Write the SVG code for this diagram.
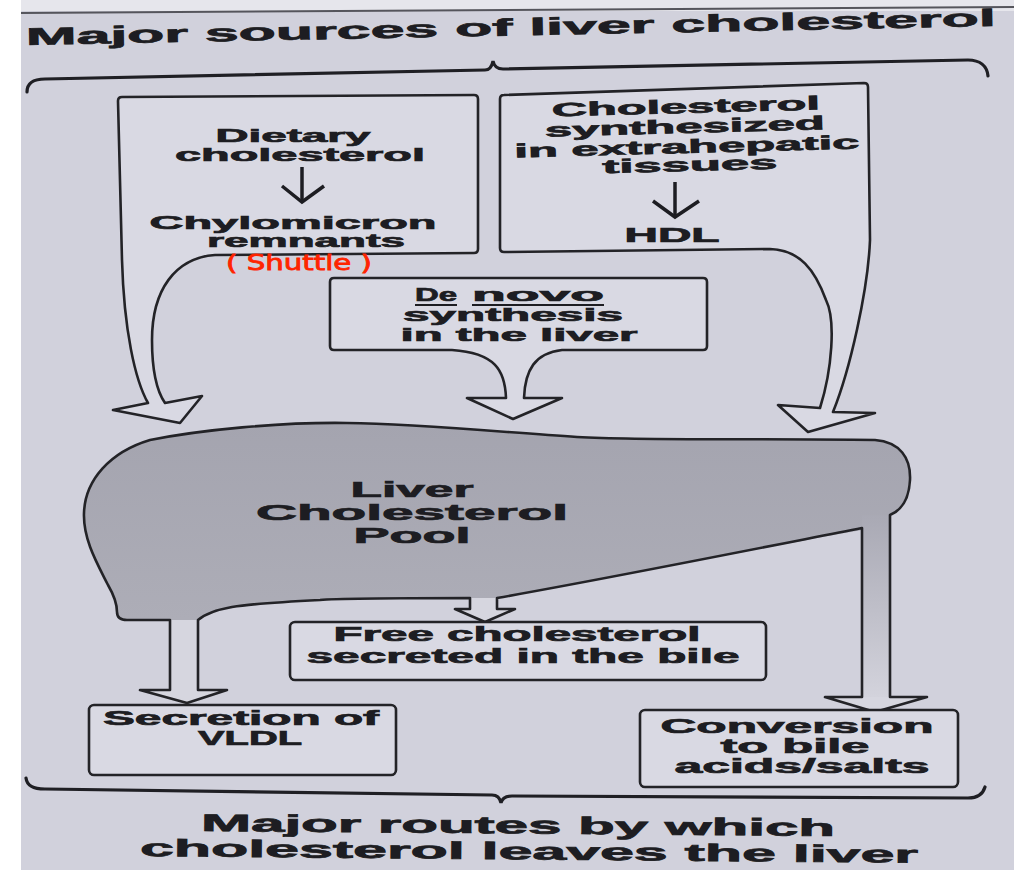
<svg xmlns="http://www.w3.org/2000/svg" width="1014" height="870" viewBox="0 0 1014 870">
  <defs>
    <linearGradient id="shaftGrad" x1="0" y1="515" x2="0" y2="697" gradientUnits="userSpaceOnUse">
      <stop offset="0" stop-color="#a9a9b4"/>
      <stop offset="1" stop-color="#d3d3dc"/>
    </linearGradient>
    <linearGradient id="liverGrad" x1="0" y1="420" x2="0" y2="620" gradientUnits="userSpaceOnUse">
      <stop offset="0" stop-color="#a4a4af"/>
      <stop offset="1" stop-color="#adadb7"/>
    </linearGradient>
  </defs>
  <style>
    .t { font-family: "Liberation Sans", Arial, sans-serif; font-weight: bold; fill: #1d1d22; stroke: #1d1d22; stroke-width: 0.7; }
    .ol { fill: none; stroke: #232327; stroke-width: 2.6; stroke-linejoin: round; stroke-linecap: round; }
    .bx { fill: #d9d9e3; stroke: #232327; stroke-width: 2.6; stroke-linejoin: round; }
    .ar { fill: none; stroke: #1d1d22; stroke-width: 3.5; stroke-linecap: butt; stroke-linejoin: miter; }
    .br { fill: none; stroke: #1f1f24; stroke-width: 3.2; stroke-linecap: round; }
    .ul { stroke: #1d1d22; stroke-width: 2; }
  </style>

  <!-- page -->
  <rect x="0" y="0" width="1014" height="870" fill="#d1d1dc"/>
  <rect x="0" y="0" width="1014" height="11" fill="#e6e6ec"/>
  <rect x="0" y="0" width="21" height="870" fill="#ffffff"/>
  <line x1="21" y1="13" x2="1014" y2="7" stroke="#55555c" stroke-width="2"/>

  <g id="title">
    <text class="t" x="26" y="45" font-size="24" textLength="970" lengthAdjust="spacingAndGlyphs" transform="rotate(-1.12 26 45)">Major sources of liver cholesterol</text>
  </g>

  <g id="brace-top">
    <path class="br" d="M 27,92 C 27,83 33,79 45,79 L 485,70 C 490,70 492,66 493,61 C 494,66 497,69 503,69 L 968,60 C 980,60 987,66 988,76"/>
  </g>

  <g id="box-dietary">
    <path class="bx" d="M 113,410 L 148,403 C 135,380 124,330 122,260 L 118,101 Q 118,97 122,97 L 474,95 Q 478,95 478,99 L 478,249 Q 478,253 474,253 L 215,255 C 175,258 152,290 152,340 C 152,370 156,390 165,403 L 202,396 L 180,423 Z"/>
    <text class="t" x="293" y="142" font-size="19" text-anchor="middle" textLength="155" lengthAdjust="spacingAndGlyphs">Dietary</text>
    <text class="t" x="300" y="161" font-size="19" text-anchor="middle" textLength="250" lengthAdjust="spacingAndGlyphs">cholesterol</text>
    <text class="t" x="293" y="229" font-size="19" text-anchor="middle" textLength="287" lengthAdjust="spacingAndGlyphs">Chylomicron</text>
    <text class="t" x="306" y="247" font-size="19" text-anchor="middle" textLength="198" lengthAdjust="spacingAndGlyphs">remnants</text>
    <text x="226" y="270" font-family="DejaVu Sans, sans-serif" font-size="21" fill="#ff2400" stroke="#ff2400" stroke-width="0.8" textLength="146" lengthAdjust="spacingAndGlyphs">( Shuttle )</text>
  </g>

  <g id="box-extrahepatic">
    <path class="bx" d="M 504,95 L 864,83 Q 868,83 868,87 L 870,240 C 868,290 850,370 833,412 L 875,413 L 808,432 L 778,405 L 820,408 C 832,370 836,320 826,300 C 815,270 800,250 770,249 L 504,252 Q 500,252 500,248 L 500,99 Q 500,95 504,95 Z"/>
    <text class="t" x="686" y="113" font-size="19" text-anchor="middle" textLength="268" lengthAdjust="spacingAndGlyphs" transform="rotate(-1.5 686 113)">Cholesterol</text>
    <text class="t" x="685" y="133" font-size="19" text-anchor="middle" textLength="280" lengthAdjust="spacingAndGlyphs" transform="rotate(-1.5 685 133)">synthesized</text>
    <text class="t" x="687" y="153" font-size="19" text-anchor="middle" textLength="345" lengthAdjust="spacingAndGlyphs" transform="rotate(-1.5 687 153)">in extrahepatic</text>
    <text class="t" x="690" y="171" font-size="19" text-anchor="middle" textLength="175" lengthAdjust="spacingAndGlyphs" transform="rotate(-1.5 690 171)">tissues</text>
    <text class="t" x="672" y="242" font-size="20" text-anchor="middle" textLength="95" lengthAdjust="spacingAndGlyphs">HDL</text>
  </g>

  <g id="box-denovo">
    <path class="bx" d="M 334,278 L 703,278 Q 707,278 707,282 L 707,346 Q 707,350 703,350 L 562,350 C 535,353 525,370 524,398 L 562,398 L 513,419 L 467,398 L 506,398 C 505,370 495,353 452,350 L 334,350 Q 330,350 330,346 L 330,282 Q 330,278 334,278 Z"/>
    <text class="t" x="415" y="301" font-size="19" textLength="42" lengthAdjust="spacingAndGlyphs">De</text>
    <text class="t" x="472" y="301" font-size="19" textLength="132" lengthAdjust="spacingAndGlyphs">novo</text>
    <line class="ul" x1="415" y1="305" x2="457" y2="305"/>
    <line class="ul" x1="472" y1="305" x2="604" y2="305"/>
    <text class="t" x="513" y="321" font-size="19" text-anchor="middle" textLength="220" lengthAdjust="spacingAndGlyphs">synthesis</text>
    <text class="t" x="519" y="341" font-size="19" text-anchor="middle" textLength="237" lengthAdjust="spacingAndGlyphs">in the liver</text>
  </g>

  <g id="liver">
    <path fill="#d6d6df" d="M 150,440 C 200,430 280,422 347,423 C 420,424 500,432 577,437 C 650,441 760,438 875,440 C 900,442 911,458 910,480 C 909,500 902,510 890,515 L 890,697 L 927,697 L 875,712 L 825,697 L 862,697 L 862,528 C 760,548 600,580 497,598 L 497,609 L 515,609 L 485,622 L 455,609 L 470,609 L 470,598 C 400,598 330,599 320,600 C 280,602 250,604 232,607 C 215,610 205,614 198,620 L 198,690 L 227,690 L 187,703 L 140,690 L 170,690 L 170,620 L 127,620 Q 117,620 117,612 C 117,605 115,597 108,585 C 98,565 83,540 84,513 C 85,480 110,452 150,440 Z"/>
    <path fill="url(#liverGrad)" d="M 150,440 C 200,430 280,422 347,423 C 420,424 500,432 577,437 C 650,441 760,438 875,440 C 900,442 911,458 910,480 C 909,500 902,510 890,515 L 890,530 L 862,530 C 760,548 600,580 497,598 L 470,598 C 400,598 330,599 320,600 C 280,602 250,604 232,607 C 215,610 205,614 198,620 L 127,620 Q 117,620 117,612 C 117,605 115,597 108,585 C 98,565 83,540 84,513 C 85,480 110,452 150,440 Z"/>
    <rect x="862" y="515" width="28" height="182" fill="url(#shaftGrad)"/>
    <path class="ol" d="M 150,440 C 200,430 280,422 347,423 C 420,424 500,432 577,437 C 650,441 760,438 875,440 C 900,442 911,458 910,480 C 909,500 902,510 890,515 L 890,697 L 927,697 L 875,712 L 825,697 L 862,697 L 862,528 C 760,548 600,580 497,598 L 497,609 L 515,609 L 485,622 L 455,609 L 470,609 L 470,598 C 400,598 330,599 320,600 C 280,602 250,604 232,607 C 215,610 205,614 198,620 L 198,690 L 227,690 L 187,703 L 140,690 L 170,690 L 170,620 L 127,620 Q 117,620 117,612 C 117,605 115,597 108,585 C 98,565 83,540 84,513 C 85,480 110,452 150,440 Z"/>
    <text class="t" x="412" y="497" font-size="22" text-anchor="middle" textLength="123" lengthAdjust="spacingAndGlyphs">Liver</text>
    <text class="t" x="412" y="520" font-size="22" text-anchor="middle" textLength="312" lengthAdjust="spacingAndGlyphs">Cholesterol</text>
    <text class="t" x="412" y="543" font-size="22" text-anchor="middle" textLength="117" lengthAdjust="spacingAndGlyphs">Pool</text>
  </g>

  <g id="box-free-bile">
    <rect class="bx" x="290" y="622" width="476" height="58" rx="5"/>
    <text class="t" x="517" y="641" font-size="20" text-anchor="middle" textLength="367" lengthAdjust="spacingAndGlyphs">Free cholesterol</text>
    <text class="t" x="523" y="663" font-size="20" text-anchor="middle" textLength="433" lengthAdjust="spacingAndGlyphs">secreted in the bile</text>
  </g>

  <g id="box-vldl">
    <rect class="bx" x="89" y="705" width="307" height="70" rx="5"/>
    <text class="t" x="241" y="725" font-size="20" text-anchor="middle" textLength="276" lengthAdjust="spacingAndGlyphs">Secretion of</text>
    <text class="t" x="250" y="745" font-size="20" text-anchor="middle" textLength="104" lengthAdjust="spacingAndGlyphs">VLDL</text>
  </g>

  <g id="box-conversion">
    <rect class="bx" x="640" y="710" width="318" height="77" rx="5"/>
    <text class="t" x="797" y="733" font-size="20" text-anchor="middle" textLength="273" lengthAdjust="spacingAndGlyphs">Conversion</text>
    <text class="t" x="795" y="753" font-size="20" text-anchor="middle" textLength="149" lengthAdjust="spacingAndGlyphs">to bile</text>
    <text class="t" x="802" y="773" font-size="20" text-anchor="middle" textLength="255" lengthAdjust="spacingAndGlyphs">acids/salts</text>
  </g>

  <g id="connectors">
    <line class="ar" x1="302" y1="167" x2="302" y2="200"/>
    <polyline class="ar" points="282,186 302,202 324,186"/>
    <line class="ar" x1="675" y1="182" x2="675" y2="215"/>
    <polyline class="ar" points="653,201 675,217 699,201"/>
  </g>

  <g id="brace-bottom">
    <path class="br" d="M 26,778 C 27,786 33,789 45,789 L 492,795 C 497,795 500,798 501,803 C 502,798 506,796 512,796 L 968,798 C 978,798 983,794 985,787"/>
  </g>

  <g id="footer">
    <text class="t" x="201" y="831" font-size="24" textLength="634" lengthAdjust="spacingAndGlyphs" transform="rotate(0.45 201 831)">Major routes by which</text>
    <text class="t" x="140" y="856" font-size="24" textLength="778" lengthAdjust="spacingAndGlyphs" transform="rotate(0.5 140 856)">cholesterol leaves the liver</text>
  </g>
</svg>
